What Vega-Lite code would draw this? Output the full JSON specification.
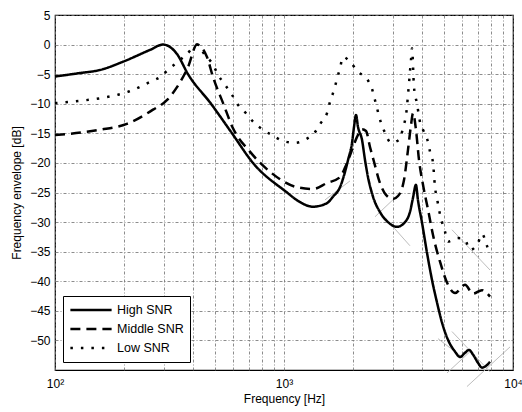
{
  "$schema": "https://vega.github.io/schema/vega-lite/v6.json",
  "width": 458,
  "height": 355,
  "autosize": {"type": "none"},
  "padding": {"left": 55, "top": 15, "right": 9, "bottom": 42},
  "background": "white",
  "config": {
    "font": "Liberation Sans",
    "view": {"stroke": "#000", "strokeWidth": 1.2},
    "axis": {
      "grid": true,
      "gridColor": "#6e6e6e",
      "gridDash": [3, 2, 1, 2],
      "gridWidth": 0.8,
      "ticks": false,
      "domain": false,
      "labelFontSize": 12,
      "labelColor": "#000",
      "titleFontSize": 12,
      "titleFontWeight": "normal",
      "titleColor": "#000",
      "labelFlush": false,
      "labelOverlap": false
    }
  },
  "datasets": {
    "guides": [
      {"g": "A", "f": 1510, "db": -26.25}, {"g": "A", "f": 1942, "db": -23.04},
      {"g": "B", "f": 2497, "db": -29.1}, {"g": "B", "f": 3053, "db": -25.9},
      {"g": "C", "f": 2962, "db": -30.6}, {"g": "C", "f": 3548, "db": -34.0},
      {"g": "D", "f": 5414, "db": -31.3}, {"g": "D", "f": 7936, "db": -38.1},
      {"g": "E", "f": 4704, "db": -49.7}, {"g": "E", "f": 5988, "db": -52.8},
      {"g": "F", "f": 5150, "db": -55.5}, {"g": "F", "f": 6490, "db": -51.9},
      {"g": "G", "f": 5414, "db": -48.5}, {"g": "G", "f": 7936, "db": -55.3},
      {"g": "H", "f": 6295, "db": -57.8}, {"g": "H", "f": 9705, "db": -51.1}
    ],
    "curves": [
      {"s": "High SNR", "f": 100, "db": -5.4},
      {"s": "High SNR", "f": 129, "db": -4.8},
      {"s": "High SNR", "f": 157, "db": -4.3},
      {"s": "High SNR", "f": 198, "db": -2.9},
      {"s": "High SNR", "f": 260, "db": -0.9},
      {"s": "High SNR", "f": 296, "db": 0},
      {"s": "High SNR", "f": 341, "db": -1.6},
      {"s": "High SNR", "f": 381, "db": -5.0},
      {"s": "High SNR", "f": 480, "db": -10.0},
      {"s": "High SNR", "f": 593, "db": -15.0},
      {"s": "High SNR", "f": 732, "db": -20.0},
      {"s": "High SNR", "f": 1031, "db": -25.0},
      {"s": "High SNR", "f": 1150, "db": -26.4},
      {"s": "High SNR", "f": 1338, "db": -27.4},
      {"s": "High SNR", "f": 1541, "db": -26.8},
      {"s": "High SNR", "f": 1637, "db": -25.7},
      {"s": "High SNR", "f": 1756, "db": -24.1},
      {"s": "High SNR", "f": 1847, "db": -21.5},
      {"s": "High SNR", "f": 1904, "db": -19.5},
      {"s": "High SNR", "f": 1982, "db": -16.6},
      {"s": "High SNR", "f": 2022, "db": -13.9},
      {"s": "High SNR", "f": 2063, "db": -11.9},
      {"s": "High SNR", "f": 2104, "db": -13.9},
      {"s": "High SNR", "f": 2191, "db": -16.1},
      {"s": "High SNR", "f": 2258, "db": -19.5},
      {"s": "High SNR", "f": 2327, "db": -22.4},
      {"s": "High SNR", "f": 2447, "db": -25.7},
      {"s": "High SNR", "f": 2624, "db": -28.3},
      {"s": "High SNR", "f": 2844, "db": -30.0},
      {"s": "High SNR", "f": 3114, "db": -30.8},
      {"s": "High SNR", "f": 3377, "db": -30.0},
      {"s": "High SNR", "f": 3548, "db": -28.3},
      {"s": "High SNR", "f": 3659, "db": -25.9},
      {"s": "High SNR", "f": 3767, "db": -23.7},
      {"s": "High SNR", "f": 3846, "db": -26.3},
      {"s": "High SNR", "f": 4006, "db": -30.1},
      {"s": "High SNR", "f": 4212, "db": -35.2},
      {"s": "High SNR", "f": 4430, "db": -39.8},
      {"s": "High SNR", "f": 4658, "db": -43.6},
      {"s": "High SNR", "f": 4898, "db": -47.0},
      {"s": "High SNR", "f": 5203, "db": -49.9},
      {"s": "High SNR", "f": 5583, "db": -51.9},
      {"s": "High SNR", "f": 5869, "db": -52.8},
      {"s": "High SNR", "f": 6171, "db": -52.1},
      {"s": "High SNR", "f": 6426, "db": -51.6},
      {"s": "High SNR", "f": 6690, "db": -52.4},
      {"s": "High SNR", "f": 7035, "db": -53.8},
      {"s": "High SNR", "f": 7321, "db": -54.6},
      {"s": "High SNR", "f": 7624, "db": -54.3},
      {"s": "High SNR", "f": 7936, "db": -53.6},
      {"s": "Middle SNR", "f": 100, "db": -15.3},
      {"s": "Middle SNR", "f": 157, "db": -14.4},
      {"s": "Middle SNR", "f": 206, "db": -13.4},
      {"s": "Middle SNR", "f": 268, "db": -11.0},
      {"s": "Middle SNR", "f": 308, "db": -9.4},
      {"s": "Middle SNR", "f": 341, "db": -7.2},
      {"s": "Middle SNR", "f": 381, "db": -3.8},
      {"s": "Middle SNR", "f": 417, "db": 0},
      {"s": "Middle SNR", "f": 461, "db": -2.1},
      {"s": "Middle SNR", "f": 490, "db": -5.5},
      {"s": "Middle SNR", "f": 542, "db": -9.9},
      {"s": "Middle SNR", "f": 598, "db": -14.1},
      {"s": "Middle SNR", "f": 710, "db": -18.1},
      {"s": "Middle SNR", "f": 869, "db": -21.5},
      {"s": "Middle SNR", "f": 1140, "db": -24.1},
      {"s": "Middle SNR", "f": 1338, "db": -24.4},
      {"s": "Middle SNR", "f": 1541, "db": -23.4},
      {"s": "Middle SNR", "f": 1756, "db": -22.4},
      {"s": "Middle SNR", "f": 1847, "db": -20.8},
      {"s": "Middle SNR", "f": 1982, "db": -17.8},
      {"s": "Middle SNR", "f": 2084, "db": -15.6},
      {"s": "Middle SNR", "f": 2191, "db": -14.3},
      {"s": "Middle SNR", "f": 2281, "db": -14.6},
      {"s": "Middle SNR", "f": 2374, "db": -17.3},
      {"s": "Middle SNR", "f": 2472, "db": -19.8},
      {"s": "Middle SNR", "f": 2599, "db": -22.9},
      {"s": "Middle SNR", "f": 2789, "db": -25.4},
      {"s": "Middle SNR", "f": 2992, "db": -26.1},
      {"s": "Middle SNR", "f": 3147, "db": -25.6},
      {"s": "Middle SNR", "f": 3342, "db": -22.9},
      {"s": "Middle SNR", "f": 3479, "db": -17.8},
      {"s": "Middle SNR", "f": 3586, "db": -13.6},
      {"s": "Middle SNR", "f": 3659, "db": -11.6},
      {"s": "Middle SNR", "f": 3770, "db": -14.4},
      {"s": "Middle SNR", "f": 3886, "db": -19.5},
      {"s": "Middle SNR", "f": 4046, "db": -23.7},
      {"s": "Middle SNR", "f": 4256, "db": -27.9},
      {"s": "Middle SNR", "f": 4474, "db": -32.2},
      {"s": "Middle SNR", "f": 4800, "db": -36.7},
      {"s": "Middle SNR", "f": 5203, "db": -40.6},
      {"s": "Middle SNR", "f": 5583, "db": -42.0},
      {"s": "Middle SNR", "f": 6171, "db": -40.6},
      {"s": "Middle SNR", "f": 6690, "db": -42.1},
      {"s": "Middle SNR", "f": 7321, "db": -41.5},
      {"s": "Middle SNR", "f": 7936, "db": -42.6},
      {"s": "Low SNR", "f": 100, "db": -9.9},
      {"s": "Low SNR", "f": 129, "db": -9.5},
      {"s": "Low SNR", "f": 162, "db": -9.0},
      {"s": "Low SNR", "f": 187, "db": -8.5},
      {"s": "Low SNR", "f": 208, "db": -8.0},
      {"s": "Low SNR", "f": 230, "db": -7.3},
      {"s": "Low SNR", "f": 260, "db": -6.3},
      {"s": "Low SNR", "f": 287, "db": -5.5},
      {"s": "Low SNR", "f": 311, "db": -4.3},
      {"s": "Low SNR", "f": 344, "db": -2.9},
      {"s": "Low SNR", "f": 377, "db": -1.6},
      {"s": "Low SNR", "f": 417, "db": 0},
      {"s": "Low SNR", "f": 452, "db": -1.8},
      {"s": "Low SNR", "f": 490, "db": -3.4},
      {"s": "Low SNR", "f": 515, "db": -5.1},
      {"s": "Low SNR", "f": 553, "db": -6.8},
      {"s": "Low SNR", "f": 593, "db": -8.5},
      {"s": "Low SNR", "f": 630, "db": -10.2},
      {"s": "Low SNR", "f": 682, "db": -11.6},
      {"s": "Low SNR", "f": 740, "db": -13.2},
      {"s": "Low SNR", "f": 810, "db": -14.4},
      {"s": "Low SNR", "f": 895, "db": -15.4},
      {"s": "Low SNR", "f": 990, "db": -16.3},
      {"s": "Low SNR", "f": 1117, "db": -16.6},
      {"s": "Low SNR", "f": 1247, "db": -16.0},
      {"s": "Low SNR", "f": 1366, "db": -14.8},
      {"s": "Low SNR", "f": 1451, "db": -13.2},
      {"s": "Low SNR", "f": 1541, "db": -11.6},
      {"s": "Low SNR", "f": 1588, "db": -9.7},
      {"s": "Low SNR", "f": 1653, "db": -7.7},
      {"s": "Low SNR", "f": 1704, "db": -5.8},
      {"s": "Low SNR", "f": 1756, "db": -4.0},
      {"s": "Low SNR", "f": 1810, "db": -2.1},
      {"s": "Low SNR", "f": 1962, "db": -3.1},
      {"s": "Low SNR", "f": 2104, "db": -4.6},
      {"s": "Low SNR", "f": 2304, "db": -5.8},
      {"s": "Low SNR", "f": 2423, "db": -7.5},
      {"s": "Low SNR", "f": 2497, "db": -9.4},
      {"s": "Low SNR", "f": 2652, "db": -13.2},
      {"s": "Low SNR", "f": 2761, "db": -14.9},
      {"s": "Low SNR", "f": 2933, "db": -16.6},
      {"s": "Low SNR", "f": 3178, "db": -16.1},
      {"s": "Low SNR", "f": 3309, "db": -14.1},
      {"s": "Low SNR", "f": 3444, "db": -10.5},
      {"s": "Low SNR", "f": 3479, "db": -8.5},
      {"s": "Low SNR", "f": 3516, "db": -6.5},
      {"s": "Low SNR", "f": 3548, "db": -4.6},
      {"s": "Low SNR", "f": 3586, "db": -2.6},
      {"s": "Low SNR", "f": 3622, "db": -0.6},
      {"s": "Low SNR", "f": 3696, "db": -7.2},
      {"s": "Low SNR", "f": 3809, "db": -10.0},
      {"s": "Low SNR", "f": 3926, "db": -13.1},
      {"s": "Low SNR", "f": 4046, "db": -14.4},
      {"s": "Low SNR", "f": 4256, "db": -16.5},
      {"s": "Low SNR", "f": 4341, "db": -18.1},
      {"s": "Low SNR", "f": 4474, "db": -20.0},
      {"s": "Low SNR", "f": 4564, "db": -24.1},
      {"s": "Low SNR", "f": 4658, "db": -26.0},
      {"s": "Low SNR", "f": 4752, "db": -27.9},
      {"s": "Low SNR", "f": 4898, "db": -30.0},
      {"s": "Low SNR", "f": 5047, "db": -31.6},
      {"s": "Low SNR", "f": 5203, "db": -33.3},
      {"s": "Low SNR", "f": 5751, "db": -32.7},
      {"s": "Low SNR", "f": 6171, "db": -33.0},
      {"s": "Low SNR", "f": 6490, "db": -34.7},
      {"s": "Low SNR", "f": 7035, "db": -33.5},
      {"s": "Low SNR", "f": 7321, "db": -32.0},
      {"s": "Low SNR", "f": 7624, "db": -33.5},
      {"s": "Low SNR", "f": 7857, "db": -35.2}
    ]
  },
  "encoding": {
    "x": {
      "field": "f",
      "type": "quantitative",
      "scale": {"type": "log", "domain": [100, 10000]},
      "axis": {
        "title": "Frequency [Hz]",
        "values": [100, 200, 300, 400, 500, 600, 700, 800, 900, 1000, 2000, 3000, 4000, 5000, 6000, 7000, 8000, 9000, 10000],
        "labelExpr": "datum.value == 100 ? '10²' : datum.value == 1000 ? '10³' : datum.value == 10000 ? '10⁴' : ''",
        "labelPadding": 8,
        "titlePadding": 4
      }
    },
    "y": {
      "field": "db",
      "type": "quantitative",
      "scale": {"domain": [-55, 5]},
      "axis": {
        "title": "Frequency envelope [dB]",
        "values": [-50, -45, -40, -35, -30, -25, -20, -15, -10, -5, 0, 5],
        "labelPadding": 5,
        "titlePadding": 6
      }
    }
  },
  "layer": [
    {
      "data": {"name": "guides"},
      "mark": {"type": "line", "stroke": "#bdbdbd", "strokeWidth": 1},
      "encoding": {"detail": {"field": "g", "type": "nominal"}}
    },
    {
      "data": {"name": "curves"},
      "mark": {"type": "line", "stroke": "#000", "strokeWidth": 2.5, "strokeCap": "butt", "interpolate": "monotone"},
      "encoding": {
        "strokeDash": {
          "field": "s",
          "type": "nominal",
          "scale": {"domain": ["High SNR", "Middle SNR", "Low SNR"], "range": [[1, 0], [10, 6], [2.5, 8]]},
          "legend": {
            "title": null,
            "orient": "bottom-left",
            "offset": 8,
            "fillColor": "white",
            "strokeColor": "#000",
            "padding": 6,
            "symbolType": "stroke",
            "symbolSize": 1700,
            "clipHeight": 16,
            "symbolStrokeWidth": 2.5,
            "symbolStrokeColor": "#000",
            "labelFontSize": 12.5,
            "labelOffset": 4,
            "labelColor": "#000",
            "rowPadding": 3
          }
        }
      }
    }
  ]
}
